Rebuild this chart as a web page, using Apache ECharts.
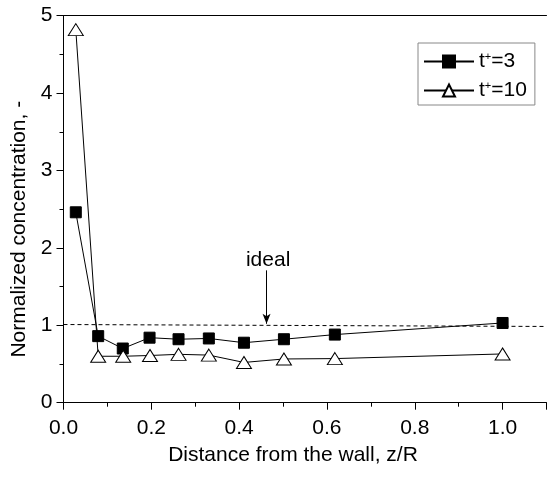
<!DOCTYPE html>
<html>
<head>
<meta charset="utf-8">
<script src="https://cdn.jsdelivr.net/npm/echarts@6/dist/echarts.min.js"></script>
<style>html,body{margin:0;padding:0;background:#fff;}#c{width:547px;height:477px;}</style>
</head>
<body>
<div id="c"></div>
<script>
var xPos = [0.028, 0.079, 0.135, 0.196, 0.262, 0.331, 0.411, 0.502, 0.618, 1.0];
var t3 = [2.46, 0.86, 0.70, 0.84, 0.82, 0.83, 0.775, 0.82, 0.88, 1.03];
var xPos10 = [0.028, 0.079, 0.136, 0.197, 0.262, 0.331, 0.411, 0.502, 0.618, 1.0];
var t10 = [4.82, 0.60, 0.60, 0.61, 0.625, 0.615, 0.52, 0.565, 0.57, 0.63];
var idealLine = [[0, 1.01], [1.1, 0.985]];
var arrowFrom = [0.4624, 1.71];
var arrowTo = [0.4624, 1.02];
var idealLabelAt = [0.466, 1.84];

function pairs(xs, ys) { return xs.map(function (x, i) { return [x, ys[i]]; }); }

var FONT = 'Liberation Sans, Arial, sans-serif';
var FS = 21;
var chart = echarts.init(document.getElementById('c'), null, { renderer: 'canvas' });
chart.setOption({
  animation: false,
  backgroundColor: '#fff',
  textStyle: { fontFamily: FONT },
  grid: { left: 63.5, top: 15.7, width: 483, height: 387 },
  legend: {
    left: 418, top: 43, orient: 'vertical',
    padding: [8, 8, 4, 5], itemWidth: 50, itemHeight: 15, itemGap: 8,
    borderColor: '#888', borderWidth: 1,
    textStyle: {
      fontFamily: FONT, fontSize: FS, color: '#000',
      rich: { sup: { fontFamily: FONT, fontSize: 11, color: '#000', verticalAlign: 'top', padding: [0, 0, 10, 0] } }
    },
    formatter: function (n) { return n === 't3' ? 't{sup|+}=3' : 't{sup|+}=10'; },
    data: ['t3', 't10']
  },
  xAxis: [{
    type: 'value', min: 0, max: 1.1, interval: 0.2,
    axisLine: { lineStyle: { color: '#000', width: 1 } },
    axisTick: { show: true, inside: false, length: 7, lineStyle: { color: '#000' } },
    minorTick: { show: true, splitNumber: 2, length: 4, lineStyle: { color: '#000' } },
    splitLine: { show: false },
    axisLabel: { color: '#000', fontSize: FS, fontFamily: FONT, margin: 15, showMaxLabel: false,
      formatter: function (v) { return v > 1.05 ? '' : v.toFixed(1); } },
    name: 'Distance from the wall, z/R', nameLocation: 'middle', nameGap: 42,
    nameTextStyle: { color: '#000', fontSize: FS, fontFamily: FONT, padding: [0, 24, 0, 0] }
  }, {
    type: 'value', min: 0, max: 1.1, position: 'top',
    axisLine: { show: true, lineStyle: { color: '#000', width: 1 } },
    axisTick: { show: false }, axisLabel: { show: false }, splitLine: { show: false }
  }],
  yAxis: {
    type: 'value', min: 0, max: 5, interval: 1,
    axisLine: { show: true, lineStyle: { color: '#000', width: 1 } },
    axisTick: { show: true, inside: false, length: 7, lineStyle: { color: '#000' } },
    minorTick: { show: true, splitNumber: 2, length: 4, lineStyle: { color: '#000' } },
    splitLine: { show: false },
    axisLabel: { color: '#000', fontSize: FS, fontFamily: FONT, margin: 11 },
    name: 'Normalized concentration, -', nameLocation: 'middle', nameGap: 32,
    nameTextStyle: { color: '#000', fontSize: FS, fontFamily: FONT, padding: [0, 40, 0, 0] }
  },
  series: [{
    name: 't3', type: 'line', data: pairs(xPos, t3),
    symbol: 'rect', symbolSize: 11,
    itemStyle: { color: '#000', borderColor: '#000', borderWidth: 1 },
    lineStyle: { color: '#000', width: 1 },
    z: 3
  }, {
    name: 't10', type: 'line', data: pairs(xPos10, t10),
    symbol: 'triangle', symbolSize: [15, 12],
    itemStyle: { color: '#fff', borderColor: '#000', borderWidth: 1 },
    lineStyle: { color: '#000', width: 1 },
    z: 4
  }, {
    name: 'annot', type: 'line', data: [], silent: true,
    markLine: {
      silent: true, animation: false,
      label: { show: false },
      data: [
        [{ coord: idealLine[0], symbol: 'none', lineStyle: { type: [4, 3], color: '#000', width: 1 } },
         { coord: idealLine[1], symbol: 'none' }],
        [{ coord: arrowFrom, symbol: 'none', lineStyle: { type: 'solid', color: '#000', width: 1 } },
         { coord: arrowTo, symbol: 'arrow', symbolSize: [6, 10] }]
      ]
    },
    markPoint: {
      silent: true, symbol: 'circle', symbolSize: 1,
      itemStyle: { color: 'rgba(0,0,0,0)' },
      label: { show: true, position: 'inside', color: '#000', fontSize: FS, fontFamily: FONT, formatter: 'ideal' },
      data: [{ coord: idealLabelAt }]
    }
  }]
});
</script>
</body>
</html>
